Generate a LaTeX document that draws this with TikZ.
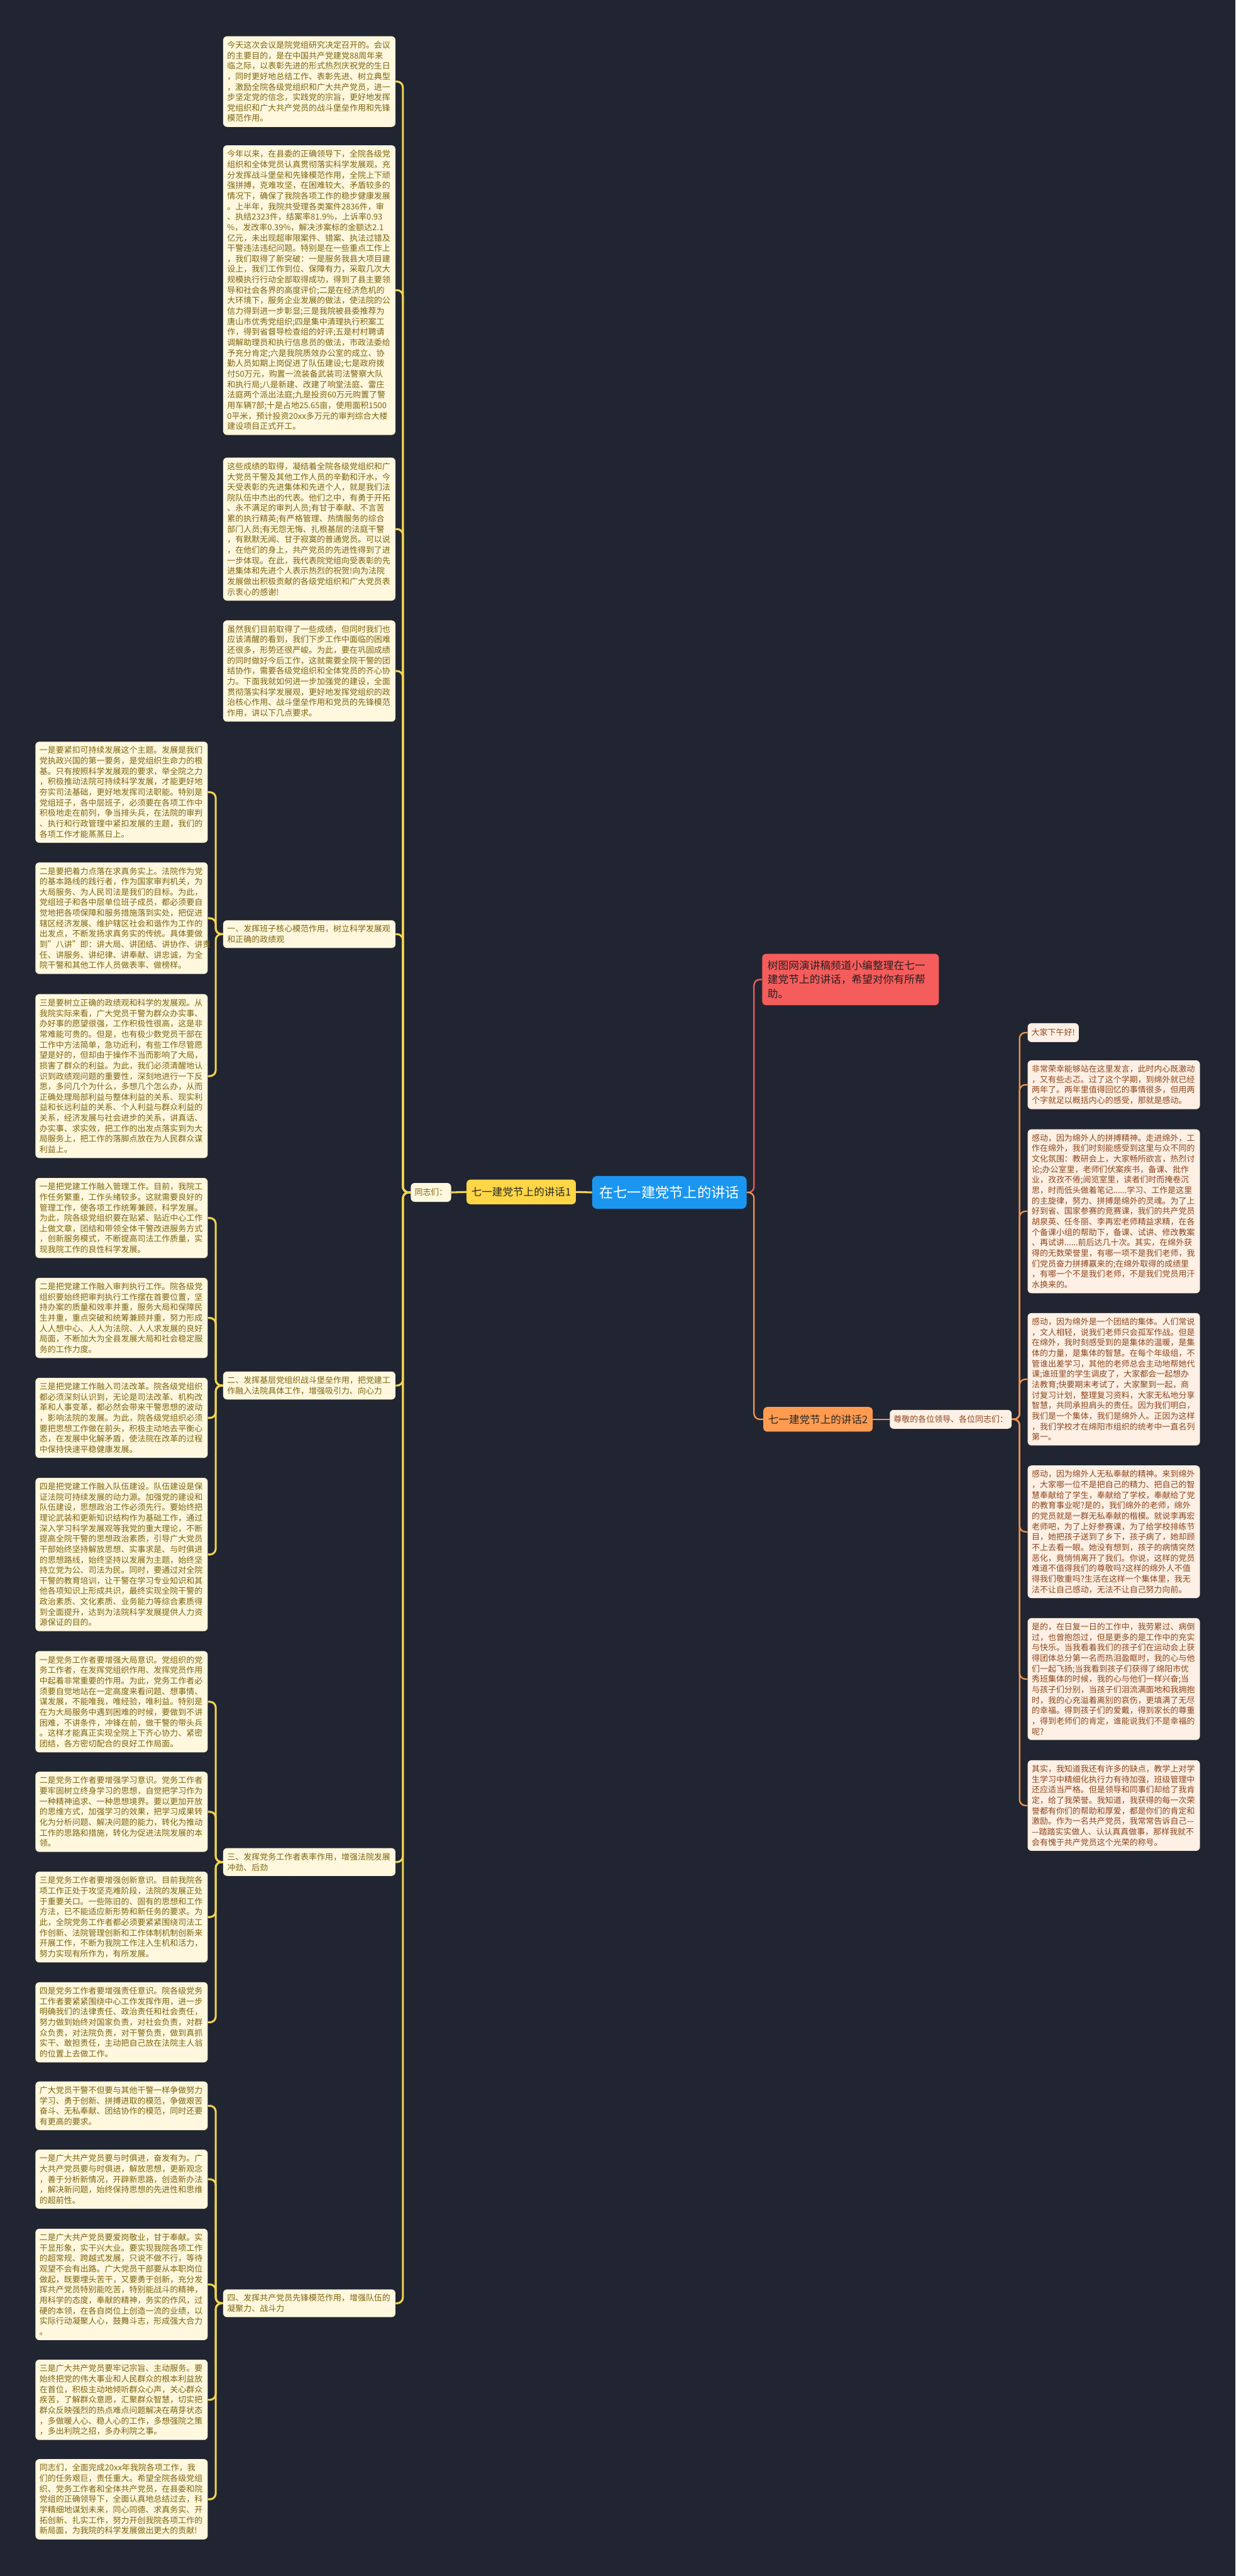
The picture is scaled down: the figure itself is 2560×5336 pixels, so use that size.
\documentclass[tikz,border=0pt]{standalone}
\usepackage{fontspec}
\setmainfont{Noto Sans CJK SC}
\usepackage{xcolor}
\usepackage{tikz}
\usetikzlibrary{positioning}

\definecolor{bgdark}{RGB}{33,37,49}
\definecolor{boxcream}{RGB}{255,248,222}
\definecolor{txtgold}{RGB}{125,100,15}
\definecolor{boxpeach}{RGB}{254,240,228}
\definecolor{txtbrown}{RGB}{140,70,30}
\definecolor{linegold}{RGB}{240,212,80}
\definecolor{lineorange}{RGB}{240,150,80}
\definecolor{rootblue}{RGB}{27,150,240}
\definecolor{talkyellow}{RGB}{255,214,70}
\definecolor{talkorange}{RGB}{255,155,80}
\definecolor{notered}{RGB}{245,92,92}

\newcommand{\boxfont}{\fontsize{8.45pt}{10.85pt}\selectfont}
\newcommand{\talkfont}{\fontsize{10.8pt}{13pt}\selectfont}

\tikzset{
  lbox/.style={fill=boxcream, text=txtgold, rounded corners=4pt, font=\boxfont,
    align=left, text width=170pt, inner xsep=4.25pt, inner ysep=5pt},
  rbox/.style={lbox, fill=boxpeach, text=txtbrown},
  lsmall/.style={fill=boxcream, text=txtgold, rounded corners=4pt, font=\boxfont,
    inner xsep=4pt, minimum height=19.5pt},
  rsmall/.style={lsmall, fill=boxpeach, text=txtbrown},
  talk/.style={rounded corners=4pt, font=\talkfont, text={rgb,255:red,40;green,40;blue,40},
    inner xsep=5pt, minimum height=25.5pt},
  yline/.style={draw=linegold, line width=2pt, rounded corners=6pt},
  oline/.style={draw=lineorange, line width=1.5pt, rounded corners=6pt},
  rline/.style={draw=notered, line width=1.5pt, rounded corners=6pt}
}

\begin{document}
\begin{tikzpicture}[x=0.5pt,y=-0.5pt]

  % background and page size
  \fill[bgdark] (0,0) rectangle (2560,5336);
  \useasboundingbox (0,0) rectangle (2560,5336);

  % centre and main branches
  \node[rounded corners=5pt, fill=rootblue, text=white, font=\fontsize{14.5pt}{17pt}\selectfont,
        inner xsep=7.5pt, minimum height=34pt] (root) at (1387,2470) {在七一建党节上的讲话};
  \node[talk, fill=talkyellow] (talk1) at (1080,2469) {七一建党节上的讲话1};
  \node[talk, fill=talkorange] (talk2) at (1695,2940) {七一建党节上的讲话2};
  \node[lsmall] (tongzhi) at (893,2470) {同志们：};
  \node[rsmall] (zunjing) at (1970,2940) {尊敬的各位领导、各位同志们：};
  \node[fill=notered, rounded corners=4pt, text={rgb,255:red,40;green,30;blue,30},
        font=\fontsize{10.9pt}{14.5pt}\selectfont, align=left, text width=172pt,
        inner xsep=5.5pt, inner ysep=7pt, anchor=west] (intro) at (1579,2029)
        {树图网演讲稿频道小编整理在七一\\建党节上的讲话，希望对你有所帮\\助。};

  % speech 1: opening paragraphs
  \node[lbox, anchor=west] (t1) at (462,169) {今天这次会议是院党组研究决定召开的。会议\\的主要目的，是在中国共产党建党88周年来\\临之际，以表彰先进的形式热烈庆祝党的生日\\，同时更好地总结工作、表彰先进、树立典型\\，激励全院各级党组织和广大共产党员，进一\\步坚定党的信念，实践党的宗旨，更好地发挥\\党组织和广大共产党员的战斗堡垒作用和先锋\\模范作用。};
  \node[lbox, anchor=west] (t2) at (462,601) {今年以来，在县委的正确领导下，全院各级党\\组织和全体党员认真贯彻落实科学发展观，充\\分发挥战斗堡垒和先锋模范作用，全院上下顽\\强拼搏，克难攻坚，在困难较大、矛盾较多的\\情况下，确保了我院各项工作的稳步健康发展\\。上半年，我院共受理各类案件2836件，审\\、执结2323件，结案率81.9\%，上诉率0.93\\\%，发改率0.39\%，解决涉案标的金额达2.1\\亿元，未出现超审限案件、错案、执法过错及\\干警违法违纪问题。特别是在一些重点工作上\\，我们取得了新突破：一是服务我县大项目建\\设上，我们工作到位、保障有力，采取几次大\\规模执行行动全部取得成功，得到了县主要领\\导和社会各界的高度评价;二是在经济危机的\\大环境下，服务企业发展的做法，使法院的公\\信力得到进一步彰显;三是我院被县委推荐为\\唐山市优秀党组织;四是集中清理执行积案工\\作，得到省督导检查组的好评;五是村村聘请\\调解助理员和执行信息员的做法，市政法委给\\予充分肯定;六是我院质效办公室的成立、协\\勤人员如期上岗促进了队伍建设;七是政府拨\\付50万元，购置一流装备武装司法警察大队\\和执行局;八是新建、改建了响堂法庭、雷庄\\法庭两个派出法庭;九是投资60万元购置了警\\用车辆7部;十是占地25.65亩，使用面积1500\\0平米，预计投资20xx多万元的审判综合大楼\\建设项目正式开工。};
  \node[lbox, anchor=west] (t3) at (462,1096) {这些成绩的取得，凝结着全院各级党组织和广\\大党员干警及其他工作人员的辛勤和汗水，今\\天受表彰的先进集体和先进个人，就是我们法\\院队伍中杰出的代表。他们之中，有勇于开拓\\、永不满足的审判人员;有甘于奉献、不言苦\\累的执行精英;有严格管理、热情服务的综合\\部门人员;有无怨无悔、扎根基层的法庭干警\\，有默默无闻、甘于寂寞的普通党员。可以说\\，在他们的身上，共产党员的先进性得到了进\\一步体现。在此，我代表院党组向受表彰的先\\进集体和先进个人表示热烈的祝贺!向为法院\\发展做出积极贡献的各级党组织和广大党员表\\示衷心的感谢!};
  \node[lbox, anchor=west] (t4) at (462,1390) {虽然我们目前取得了一些成绩，但同时我们也\\应该清醒的看到，我们下步工作中面临的困难\\还很多，形势还很严峻。为此，要在巩固成绩\\的同时做好今后工作，这就需要全院干警的团\\结协作，需要各级党组织和全体党员的齐心协\\力。下面我就如何进一步加强党的建设，全面\\贯彻落实科学发展观，更好地发挥党组织的政\\治核心作用、战斗堡垒作用和党员的先锋模范\\作用，讲以下几点要求。};

  % speech 1: the four points
  \node[lbox, anchor=west] (lab1) at (462,1935) {一、发挥班子核心模范作用，树立科学发展观\\和正确的政绩观};
  \node[lbox, anchor=west] (lab2) at (462,2870) {二、发挥基层党组织战斗堡垒作用，把党建工\\作融入法院具体工作，增强吸引力、向心力};
  \node[lbox, anchor=west] (lab3) at (462,3857) {三、发挥党务工作者表率作用，增强法院发展\\冲劲、后劲};
  \node[lbox, anchor=west] (lab4) at (462,4771) {四、发挥共产党员先锋模范作用，增强队伍的\\凝聚力、战斗力};

  % point one
  \node[lbox, anchor=west] (a1) at (73,1641) {一是要紧扣可持续发展这个主题。发展是我们\\党执政兴国的第一要务，是党组织生命力的根\\基。只有按照科学发展观的要求，举全院之力\\，积极推动法院可持续科学发展，才能更好地\\夯实司法基础，更好地发挥司法职能。特别是\\党组班子，各中层班子，必须要在各项工作中\\积极地走在前列，争当排头兵，在法院的审判\\、执行和行政管理中紧扣发展的主题，我们的\\各项工作才能蒸蒸日上。};
  \node[lbox, anchor=west] (a2) at (73,1902) {二是要把着力点落在求真务实上。法院作为党\\的基本路线的践行者，作为国家审判机关，为\\大局服务、为人民司法是我们的目标。为此，\\党组班子和各中层单位班子成员，都必须要自\\觉地把各项保障和服务措施落到实处，把促进\\辖区经济发展、维护辖区社会和谐作为工作的\\出发点，不断发扬求真务实的传统。具体要做\\到"八讲"即：讲大局、讲团结、讲协作、讲责\\任、讲服务、讲纪律、讲奉献、讲忠诚，为全\\院干警和其他工作人员做表率、做榜样。};
  \node[lbox, anchor=west] (a3) at (73,2229) {三是要树立正确的政绩观和科学的发展观。从\\我院实际来看，广大党员干警为群众办实事、\\办好事的愿望很强，工作积极性很高，这是非\\常难能可贵的。但是，也有极少数党员干部在\\工作中方法简单，急功近利，有些工作尽管愿\\望是好的，但却由于操作不当而影响了大局，\\损害了群众的利益。为此，我们必须清醒地认\\识到政绩观问题的重要性，深刻地进行一下反\\思，多问几个为什么，多想几个怎么办，从而\\正确处理局部利益与整体利益的关系、现实利\\益和长远利益的关系、个人利益与群众利益的\\关系，经济发展与社会进步的关系，讲真话、\\办实事、求实效，把工作的出发点落实到为大\\局服务上，把工作的落脚点放在为人民群众谋\\利益上。};

  % point two
  \node[lbox, anchor=west] (b1) at (73,2523) {一是把党建工作融入管理工作。目前，我院工\\作任务繁重，工作头绪较多。这就需要良好的\\管理工作，使各项工作统筹兼顾，科学发展。\\为此，院各级党组织要在贴紧、贴近中心工作\\上做文章，团结和带领全体干警改进服务方式\\，创新服务模式，不断提高司法工作质量，实\\现我院工作的良性科学发展。};
  \node[lbox, anchor=west] (b2) at (73,2730) {二是把党建工作融入审判执行工作。院各级党\\组织要始终把审判执行工作摆在首要位置，坚\\持办案的质量和效率并重，服务大局和保障民\\生并重，重点突破和统筹兼顾并重，努力形成\\人人想中心、人人为法院、人人求发展的良好\\局面，不断加大为全县发展大局和社会稳定服\\务的工作力度。};
  \node[lbox, anchor=west] (b3) at (73,2937) {三是把党建工作融入司法改革。院各级党组织\\都必须深刻认识到，无论是司法改革、机构改\\革和人事变革，都必然会带来干警思想的波动\\，影响法院的发展。为此，院各级党组织必须\\要把思想工作做在前头，积极主动地去平衡心\\态，在发展中化解矛盾，使法院在改革的过程\\中保持快速平稳健康发展。};
  \node[lbox, anchor=west] (b4) at (73,3220) {四是把党建工作融入队伍建设。队伍建设是保\\证法院可持续发展的动力源。加强党的建设和\\队伍建设，思想政治工作必须先行。要始终把\\理论武装和更新知识结构作为基础工作，通过\\深入学习科学发展观等我党的重大理论，不断\\提高全院干警的思想政治素质，引导广大党员\\干部始终坚持解放思想、实事求是、与时俱进\\的思想路线，始终坚持以发展为主题，始终坚\\持立党为公、司法为民。同时，要通过对全院\\干警的教育培训，让干警在学习专业知识和其\\他各项知识上形成共识，最终实现全院干警的\\政治素质、文化素质、业务能力等综合素质得\\到全面提升，达到为法院科学发展提供人力资\\源保证的目的。};

  % point three
  \node[lbox, anchor=west] (c1) at (73,3525) {一是党务工作者要增强大局意识。党组织的党\\务工作者，在发挥党组织作用、发挥党员作用\\中起着非常重要的作用。为此，党务工作者必\\须要自觉地站在一定高度来看问题、想事情、\\谋发展，不能唯我，唯经验，唯利益。特别是\\在为大局服务中遇到困难的时候，要做到不讲\\困难，不讲条件，冲锋在前，做干警的带头兵\\。这样才能真正实现全院上下齐心协力、紧密\\团结，各方密切配合的良好工作局面。};
  \node[lbox, anchor=west] (c2) at (73,3753) {二是党务工作者要增强学习意识。党务工作者\\要牢固树立终身学习的思想，自觉把学习作为\\一种精神追求、一种思想境界。要以更加开放\\的思维方式，加强学习的效果，把学习成果转\\化为分析问题、解决问题的能力，转化为推动\\工作的思路和措施，转化为促进法院发展的本\\领。};
  \node[lbox, anchor=west] (c3) at (73,3971) {三是党务工作者要增强创新意识。目前我院各\\项工作正处于攻坚克难阶段，法院的发展正处\\于重要关口。一些陈旧的、固有的思想和工作\\方法，已不能适应新形势和新任务的要求。为\\此，全院党务工作者都必须要紧紧围绕司法工\\作创新、法院管理创新和工作体制机制创新来\\开展工作，不断为我院工作注入生机和活力，\\努力实现有所作为，有所发展。};
  \node[lbox, anchor=west] (c4) at (73,4189) {四是党务工作者要增强责任意识。院各级党务\\工作者要紧紧围绕中心工作发挥作用，进一步\\明确我们的法律责任、政治责任和社会责任，\\努力做到始终对国家负责，对社会负责，对群\\众负责，对法院负责，对干警负责，做到真抓\\实干、敢担责任，主动把自己放在法院主人翁\\的位置上去做工作。};

  % point four
  \node[lbox, anchor=west] (d1) at (73,4362) {广大党员干警不但要与其他干警一样争做努力\\学习、勇于创新、拼搏进取的模范，争做艰苦\\奋斗、无私奉献、团结协作的模范，同时还要\\有更高的要求。};
  \node[lbox, anchor=west] (d2) at (73,4514) {一是广大共产党员要与时俱进，奋发有为。广\\大共产党员要与时俱进，解放思想，更新观念\\，善于分析新情况，开辟新思路，创造新办法\\，解决新问题，始终保持思想的先进性和思维\\的超前性。};
  \node[lbox, anchor=west] (d3) at (73,4732) {二是广大共产党员要爱岗敬业，甘于奉献。实\\干显形象，实干兴大业。要实现我院各项工作\\的超常规、跨越式发展，只说不做不行，等待\\观望不会有出路。广大党员干部要从本职岗位\\做起，既要埋头苦干，又要勇于创新，充分发\\挥共产党员特别能吃苦，特别能战斗的精神，\\用科学的态度，奉献的精神，务实的作风，过\\硬的本领，在各自岗位上创造一流的业绩，以\\实际行动凝聚人心，鼓舞斗志，形成强大合力\\。};
  \node[lbox, anchor=west] (d4) at (73,4971) {三是广大共产党员要牢记宗旨、主动服务。要\\始终把党的伟大事业和人民群众的根本利益放\\在首位，积极主动地倾听群众心声，关心群众\\疾苦，了解群众意愿，汇聚群众智慧，切实把\\群众反映强烈的热点难点问题解决在萌芽状态\\，多做暖人心、稳人心的工作，多想强院之策\\，多出利院之招，多办利院之事。};
  \node[lbox, anchor=west] (d5) at (73,5177) {同志们，全面完成20xx年我院各项工作，我\\们的任务艰巨，责任重大。希望全院各级党组\\织、党务工作者和全体共产党员，在县委和院\\党组的正确领导下，全面认真地总结过去，科\\学精细地谋划未来，同心同德、求真务实、开\\拓创新、扎实工作，努力开创我院各项工作的\\新局面，为我院的科学发展做出更大的贡献!};

  % speech 2
  \node[rsmall, anchor=west] (r1) at (2129,2139) {大家下午好!};
  \node[rbox, anchor=west] (r2) at (2129,2247) {非常荣幸能够站在这里发言，此时内心既激动\\，又有些忐忑。过了这个学期，到绵外就已经\\两年了。两年里值得回忆的事情很多，但用两\\个字就足以概括内心的感受，那就是感动。};
  \node[rbox, anchor=west] (r3) at (2129,2509) {感动，因为绵外人的拼搏精神。走进绵外，工\\作在绵外，我们时刻能感受到这里与众不同的\\文化氛围：教研会上，大家畅所欲言，热烈讨\\论;办公室里，老师们伏案疾书，备课、批作\\业，孜孜不倦;阅览室里，读者们时而掩卷沉\\思，时而低头做着笔记......学习、工作是这里\\的主旋律，努力、拼搏是绵外的灵魂。为了上\\好到省、国家参赛的竞赛课，我们的共产党员\\胡泉英、任冬丽、李再宏老师精益求精，在各\\个备课小组的帮助下，备课、试讲、修改教案\\、再试讲......前后达几十次。其实，在绵外获\\得的无数荣誉里，有哪一项不是我们老师，我\\们党员奋力拼搏赢来的;在绵外取得的成绩里\\，有哪一个不是我们老师，不是我们党员用汗\\水换来的。};
  \node[rbox, anchor=west] (r4) at (2129,2857) {感动，因为绵外是一个团结的集体。人们常说\\，文人相轻，说我们老师只会孤军作战。但是\\在绵外，我时刻感受到的是集体的温暖，是集\\体的力量，是集体的智慧。在每个年级组，不\\管谁出差学习，其他的老师总会主动地帮她代\\课;谁班里的学生调皮了，大家都会一起想办\\法教育;快要期末考试了，大家聚到一起，商\\讨复习计划，整理复习资料，大家无私地分享\\智慧，共同承担肩头的责任。因为我们明白，\\我们是一个集体，我们是绵外人。正因为这样\\，我们学校才在绵阳市组织的统考中一直名列\\第一。};
  \node[rbox, anchor=west] (r5) at (2129,3173) {感动，因为绵外人无私奉献的精神。来到绵外\\，大家哪一位不是把自己的精力、把自己的智\\慧奉献给了学生，奉献给了学校，奉献给了党\\的教育事业呢?是的，我们绵外的老师，绵外\\的党员就是一群无私奉献的楷模。就说李再宏\\老师吧，为了上好参赛课，为了给学校排练节\\目，她把孩子送到了乡下，孩子病了，她却顾\\不上去看一眼。她没有想到，孩子的病情突然\\恶化，竟悄悄离开了我们。你说，这样的党员\\难道不值得我们的尊敬吗?这样的绵外人不值\\得我们敬重吗?生活在这样一个集体里，我无\\法不让自己感动，无法不让自己努力向前。};
  \node[rbox, anchor=west] (r6) at (2129,3478) {是的，在日复一日的工作中，我劳累过、病倒\\过，也曾抱怨过，但是更多的是工作中的充实\\与快乐。当我看着我们的孩子们在运动会上获\\得团体总分第一名而热泪盈眶时，我的心与他\\们一起飞扬;当我看到孩子们获得了绵阳市优\\秀班集体的时候，我的心与他们一样兴奋;当\\与孩子们分别，当孩子们泪流满面地和我拥抱\\时，我的心充溢着离别的哀伤，更填满了无尽\\的幸福。得到孩子们的爱戴，得到家长的尊重\\，得到老师们的肯定，谁能说我们不是幸福的\\呢?};
  \node[rbox, anchor=west] (r7) at (2129,3740) {其实，我知道我还有许多的缺点，教学上对学\\生学习中精细化执行力有待加强，班级管理中\\还应适当严格。但是领导和同事们却给了我肯\\定，给了我荣誉。我知道，我获得的每一次荣\\誉都有你们的帮助和厚爱，都是你们的肯定和\\激励。作为一名共产党员，我常常告诉自己—\\—踏踏实实做人、认认真真做事，那样我就不\\会有愧于共产党员这个光荣的称号。};

  % connectors, centre
  \draw[rline] (root.east) -- ++(15,0) |- (intro.west);
  \draw[oline] (root.east) -- ++(15,0) |- (talk2.west);
  \draw[yline] (root.west) -- (talk1.east);
  \draw[yline] (talk1.west) -- (tongzhi.east);
  \draw[oline] (talk2.east) -- (zunjing.west);

  % connectors, speech 1
  \foreach \n in {t1,t2,t3,t4,lab1,lab2,lab3,lab4}
    \draw[yline] (tongzhi.west) -- ++(-16,0) |- (\n.east);
  \foreach \n in {a1,a2,a3}
    \draw[yline] (lab1.west) -- ++(-15,0) |- (\n.east);
  \foreach \n in {b1,b2,b3,b4}
    \draw[yline] (lab2.west) -- ++(-15,0) |- (\n.east);
  \foreach \n in {c1,c2,c3,c4}
    \draw[yline] (lab3.west) -- ++(-15,0) |- (\n.east);
  \foreach \n in {d1,d2,d3,d4,d5}
    \draw[yline] (lab4.west) -- ++(-15,0) |- (\n.east);

  % connectors, speech 2
  \foreach \n in {r1,r2,r3,r4,r5,r6,r7}
    \draw[oline] (zunjing.east) -- ++(16,0) |- (\n.west);

\end{tikzpicture}
\end{document}
